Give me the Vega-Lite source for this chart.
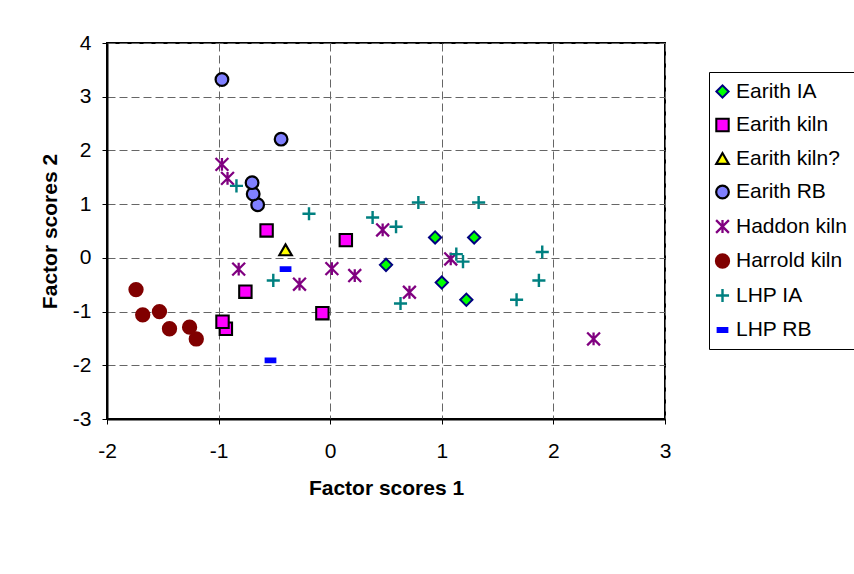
{
  "$schema": "https://vega.github.io/schema/vega-lite/v6.json",
  "width": 558,
  "height": 376,
  "autosize": "none",
  "padding": {"left": 107, "top": 43, "right": 189, "bottom": 155},
  "background": "white",
  "config": {
    "font": "Liberation Sans",
    "view": {"stroke": "black", "strokeWidth": 2},
    "axis": {
      "domainColor": "black",
      "domainWidth": 2,
      "grid": true,
      "gridColor": "#666666",
      "gridDash": [8, 4],
      "gridWidth": 1,
      "tickColor": "black",
      "tickSize": 5,
      "tickWidth": 1,
      "labelFontSize": 21,
      "labelColor": "black",
      "labelFlush": false,
      "titleFontSize": 21,
      "titleFontWeight": "bold",
      "titleColor": "black"
    }
  },
  "data": {
    "values": [
      {"series": "Earith IA", "f1": 0.94, "f2": 0.38},
      {"series": "Earith IA", "f1": 1.29, "f2": 0.38},
      {"series": "Earith IA", "f1": 0.50, "f2": -0.13},
      {"series": "Earith IA", "f1": 1.00, "f2": -0.46},
      {"series": "Earith IA", "f1": 1.22, "f2": -0.78},
      {"series": "Earith kiln", "f1": -0.57, "f2": 0.51},
      {"series": "Earith kiln", "f1": 0.14, "f2": 0.33},
      {"series": "Earith kiln", "f1": -0.76, "f2": -0.63},
      {"series": "Earith kiln", "f1": -0.07, "f2": -1.03},
      {"series": "Earith kiln", "f1": -0.935, "f2": -1.32},
      {"series": "Earith kiln", "f1": -0.965, "f2": -1.19},
      {"series": "Earith kiln?", "f1": -0.40, "f2": 0.15},
      {"series": "Earith RB", "f1": -0.97, "f2": 3.32},
      {"series": "Earith RB", "f1": -0.44, "f2": 2.21},
      {"series": "Earith RB", "f1": -0.65, "f2": 0.99},
      {"series": "Earith RB", "f1": -0.69, "f2": 1.19},
      {"series": "Earith RB", "f1": -0.70, "f2": 1.40},
      {"series": "Haddon kiln", "f1": -0.97, "f2": 1.74},
      {"series": "Haddon kiln", "f1": -0.92, "f2": 1.48},
      {"series": "Haddon kiln", "f1": -0.82, "f2": -0.21},
      {"series": "Haddon kiln", "f1": -0.275, "f2": -0.49},
      {"series": "Haddon kiln", "f1": 0.015, "f2": -0.20},
      {"series": "Haddon kiln", "f1": 0.22, "f2": -0.33},
      {"series": "Haddon kiln", "f1": 0.47, "f2": 0.52},
      {"series": "Haddon kiln", "f1": 0.71, "f2": -0.64},
      {"series": "Haddon kiln", "f1": 1.08, "f2": -0.02},
      {"series": "Haddon kiln", "f1": 2.36, "f2": -1.51},
      {"series": "Harrold kiln", "f1": -1.74, "f2": -0.59},
      {"series": "Harrold kiln", "f1": -1.68, "f2": -1.06},
      {"series": "Harrold kiln", "f1": -1.53, "f2": -1.00},
      {"series": "Harrold kiln", "f1": -1.44, "f2": -1.32},
      {"series": "Harrold kiln", "f1": -1.26, "f2": -1.29},
      {"series": "Harrold kiln", "f1": -1.20, "f2": -1.51},
      {"series": "LHP IA", "f1": -0.84, "f2": 1.34},
      {"series": "LHP IA", "f1": -0.19, "f2": 0.82},
      {"series": "LHP IA", "f1": -0.51, "f2": -0.42},
      {"series": "LHP IA", "f1": 0.38, "f2": 0.75},
      {"series": "LHP IA", "f1": 0.59, "f2": 0.58},
      {"series": "LHP IA", "f1": 0.63, "f2": -0.85},
      {"series": "LHP IA", "f1": 0.79, "f2": 1.03},
      {"series": "LHP IA", "f1": 1.33, "f2": 1.03},
      {"series": "LHP IA", "f1": 1.13, "f2": 0.07},
      {"series": "LHP IA", "f1": 1.19, "f2": -0.07},
      {"series": "LHP IA", "f1": 1.90, "f2": 0.11},
      {"series": "LHP IA", "f1": 1.87, "f2": -0.42},
      {"series": "LHP IA", "f1": 1.67, "f2": -0.78},
      {"series": "LHP RB", "f1": -0.40, "f2": -0.21},
      {"series": "LHP RB", "f1": -0.535, "f2": -1.91}
    ]
  },
  "mark": {"type": "point", "filled": false, "opacity": 1},
  "encoding": {
    "x": {
      "field": "f1", "type": "quantitative", "title": "Factor scores 1",
      "scale": {"domain": [-2, 3], "nice": false, "zero": false},
      "axis": {"values": [-2, -1, 0, 1, 2, 3], "labelExpr": "toString(datum.value)", "labelPadding": 16, "titlePadding": 16}
    },
    "y": {
      "field": "f2", "type": "quantitative", "title": "Factor scores 2",
      "scale": {"domain": [-3, 4], "nice": false, "zero": false},
      "axis": {"values": [-3, -2, -1, 0, 1, 2, 3, 4], "labelExpr": "toString(datum.value)", "labelPadding": 11, "titlePadding": 12}
    },
    "shape": {
      "field": "series", "type": "nominal",
      "scale": {
        "domain": ["Earith IA", "Earith kiln", "Earith kiln?", "Earith RB", "Haddon kiln", "Harrold kiln", "LHP IA", "LHP RB"],
        "range": ["diamond", "square", "triangle-up", "circle", "M-1,-1L1,1M-1,1L1,-1M0,-1L0,1", "circle", "M-1,0L1,0M0,-1L0,1", "M-0.7,-0.25H0.7V0.25H-0.7Z"]
      },
      "legend": {
        "title": null,
        "orient": "none",
        "legendX": 602,
        "legendY": 29,
        "strokeColor": "black",
        "padding": 9,
        "symbolOffset": -6,
        "labelFontSize": 21,
        "labelColor": "black",
        "labelOffset": 3,
        "rowPadding": 11.5,
        "labelLimit": 300
      }
    },
    "fill": {
      "field": "series", "type": "nominal",
      "scale": {
        "domain": ["Earith IA", "Earith kiln", "Earith kiln?", "Earith RB", "Haddon kiln", "Harrold kiln", "LHP IA", "LHP RB"],
        "range": ["#00FF00", "#FF00FF", "#FFFF00", "#8080FF", "transparent", "#800000", "transparent", "#0000FF"]
      },
      "legend": {"title": null}
    },
    "stroke": {
      "field": "series", "type": "nominal",
      "scale": {
        "domain": ["Earith IA", "Earith kiln", "Earith kiln?", "Earith RB", "Haddon kiln", "Harrold kiln", "LHP IA", "LHP RB"],
        "range": ["#000080", "#000000", "#000000", "#000000", "#800080", "#800000", "#008080", "#0000FF"]
      },
      "legend": {"title": null}
    },
    "size": {
      "field": "series", "type": "nominal",
      "scale": {
        "domain": ["Earith IA", "Earith kiln", "Earith kiln?", "Earith RB", "Haddon kiln", "Harrold kiln", "LHP IA", "LHP RB"],
        "range": [150, 175, 175, 205, 150, 230, 155, 150]
      },
      "legend": {"title": null}
    },
    "strokeWidth": {
      "field": "series", "type": "nominal",
      "scale": {
        "domain": ["Earith IA", "Earith kiln", "Earith kiln?", "Earith RB", "Haddon kiln", "Harrold kiln", "LHP IA", "LHP RB"],
        "range": [2, 2.5, 2, 2, 2.5, 1, 2.5, 1]
      },
      "legend": {"title": null}
    }
  }
}
